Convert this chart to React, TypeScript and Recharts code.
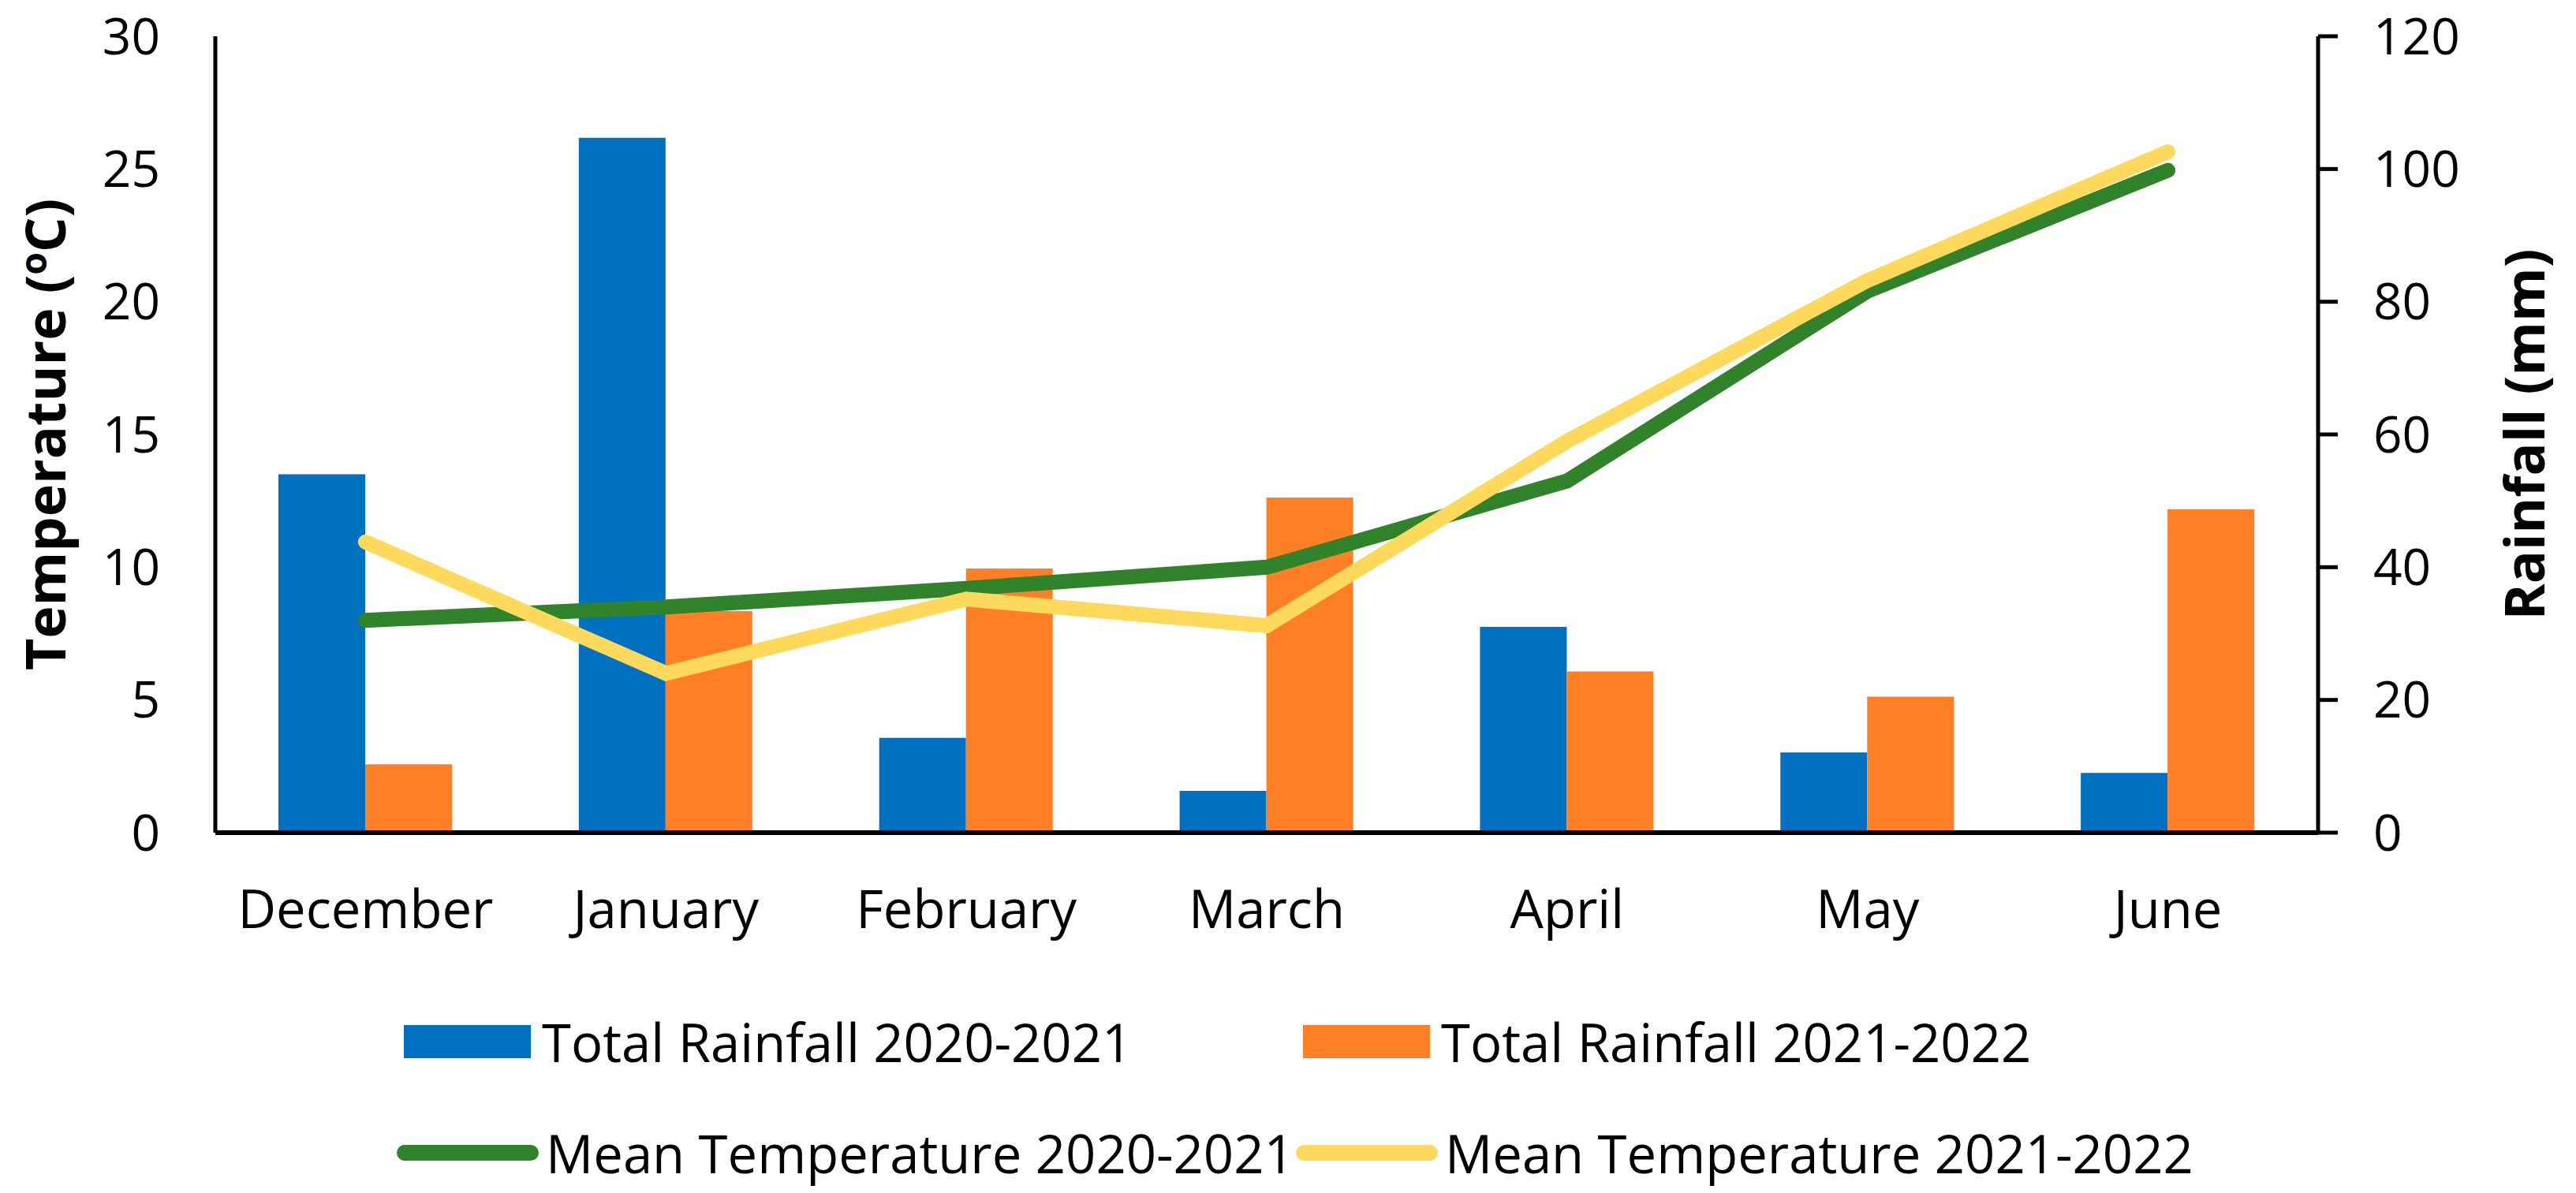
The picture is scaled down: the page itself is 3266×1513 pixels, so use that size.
import React from "react";
import { Bar, ComposedChart, Legend, Line, XAxis, YAxis } from "recharts";

const months = ["December", "January", "February", "March", "April", "May", "June"];
const rainfall2020 = [54, 104.7, 14.3, 6.3, 31.0, 12.1, 9.0];
const rainfall2021 = [10.3, 33.4, 39.8, 50.5, 24.3, 20.5, 48.7];
const meanTemp2020 = [8.0, 8.5, 9.2, 10.0, 13.25, 20.4, 24.95];
const meanTemp2021 = [10.95, 6.0, 8.8, 7.8, 14.75, 20.8, 25.65];
const tempTicks = [0, 5, 10, 15, 20, 25, 30];
const rainTicks = [0, 20, 40, 60, 80, 100, 120];
const legendOrder = ["rain2020", "rain2021", "temp2020", "temp2021"];

const FONT = "'Open Sans', 'Noto Sans', sans-serif";
const BLUE = "#0070C0";
const ORANGE = "#FF7F27";
const GREEN = "#31832B";
const YELLOW = "#FFD95C";

const W = 3266;
const H = 1513;

const xTickStyle = { fontFamily: FONT, fontSize: 67, fill: "#000" };
const yTickStyle = { fontFamily: FONT, fontSize: 64, fill: "#000" };

function TempTitle({ viewBox }: any) {
  const x = viewBox.x + 83;
  const y = viewBox.y + viewBox.height / 2;
  return (
    <text
      x={x}
      y={y}
      transform={`rotate(-90 ${x} ${y})`}
      textAnchor="middle"
      fontFamily={FONT}
      fontSize={70}
      fontWeight={700}
      fill="#000"
    >
      Temperature (<tspan dy={-24} fontSize={46}>o</tspan>
      <tspan dy={24}>C)</tspan>
    </text>
  );
}

function RainTitle({ viewBox }: any) {
  const x = viewBox.x + 287;
  const y = viewBox.y + viewBox.height / 2;
  return (
    <text
      x={x}
      y={y}
      transform={`rotate(-90 ${x} ${y})`}
      textAnchor="middle"
      fontFamily={FONT}
      fontSize={70}
      fontWeight={700}
      fill="#000"
    >
      Rainfall (mm)
    </text>
  );
}

function renderLegend({ payload }: any) {
  // bars on the first row, lines on the second
  const items = [...(payload || [])].sort(
    (a: any, b: any) => legendOrder.indexOf(a.dataKey) - legendOrder.indexOf(b.dataKey)
  );
  return (
    <div style={{ position: "relative", width: W, height: 300, fontFamily: FONT }}>
      {items.map((entry: any, i: number) => {
        const col = i % 2;
        const row = Math.floor(i / 2);
        const isLine = entry.type === "line";
        const left = (isLine ? 503 : 512) + col * 1140;
        const top = 116 + row * 141 - 50;
        return (
          <div
            key={entry.value}
            style={{
              position: "absolute",
              left,
              top,
              height: 100,
              display: "flex",
              alignItems: "center",
              whiteSpace: "nowrap",
              fontSize: 67,
              color: "#000",
            }}
          >
            {isLine ? (
              <svg width={180} height={20} style={{ marginRight: 9 }}>
                <line x1={10} y1={10} x2={170} y2={10} stroke={entry.color} strokeWidth={20} strokeLinecap="round" />
              </svg>
            ) : (
              <div style={{ width: 161, height: 42, background: entry.color, marginRight: 14 }} />
            )}
            <span>{entry.value}</span>
          </div>
        );
      })}
    </div>
  );
}

export default function App() {
  const data = months.map((month, i) => ({
    month,
    rain2020: rainfall2020[i],
    rain2021: rainfall2021[i],
    temp2020: meanTemp2020[i],
    temp2021: meanTemp2021[i],
  }));

  return (
    <div style={{ width: W, height: H }}>
      <style>{"body { margin: 0; } svg.recharts-surface { overflow: visible; }"}</style>
      <ComposedChart
        width={W}
        height={H}
        data={data}
        margin={{ top: 46, right: 0, bottom: 8, left: 0 }}
        barCategoryGap="21%"
        barGap={0}
      >
        <XAxis
          dataKey="month"
          height={149}
          interval={0}
          tickLine={false}
          tickSize={0}
          tickMargin={73}
          axisLine={{ stroke: "#000", strokeWidth: 6 }}
          tick={xTickStyle}
        />
        <YAxis
          yAxisId="temp"
          orientation="left"
          width={273}
          domain={[0, 30]}
          ticks={tempTicks}
          interval={0}
          tickLine={false}
          tickSize={0}
          tickMargin={70}
          axisLine={{ stroke: "#000", strokeWidth: 5 }}
          tick={yTickStyle}
          label={(props: any) => <TempTitle {...props} />}
        />
        <YAxis
          yAxisId="rain"
          orientation="right"
          width={327}
          domain={[0, 120]}
          ticks={rainTicks}
          interval={0}
          tickSize={25}
          tickMargin={45}
          tickLine={{ stroke: "#000", strokeWidth: 5 }}
          axisLine={{ stroke: "#000", strokeWidth: 5 }}
          tick={yTickStyle}
          label={(props: any) => <RainTitle {...props} />}
        />
        <Legend
          verticalAlign="bottom"
          itemSorter="dataKey"
          content={renderLegend}
          wrapperStyle={{ left: 0, top: 1205, width: W, height: 300 }}
        />
        <Bar yAxisId="rain" dataKey="rain2020" name="Total Rainfall 2020-2021" fill={BLUE} isAnimationActive={false} />
        <Bar yAxisId="rain" dataKey="rain2021" name="Total Rainfall 2021-2022" fill={ORANGE} isAnimationActive={false} />
        <Line
          yAxisId="temp"
          type="linear"
          dataKey="temp2020"
          name="Mean Temperature 2020-2021"
          stroke={GREEN}
          strokeWidth={19}
          strokeLinecap="round"
          dot={false}
          activeDot={false}
          isAnimationActive={false}
        />
        <Line
          yAxisId="temp"
          type="linear"
          dataKey="temp2021"
          name="Mean Temperature 2021-2022"
          stroke={YELLOW}
          strokeWidth={19}
          strokeLinecap="round"
          dot={false}
          activeDot={false}
          isAnimationActive={false}
        />
      </ComposedChart>
    </div>
  );
}
